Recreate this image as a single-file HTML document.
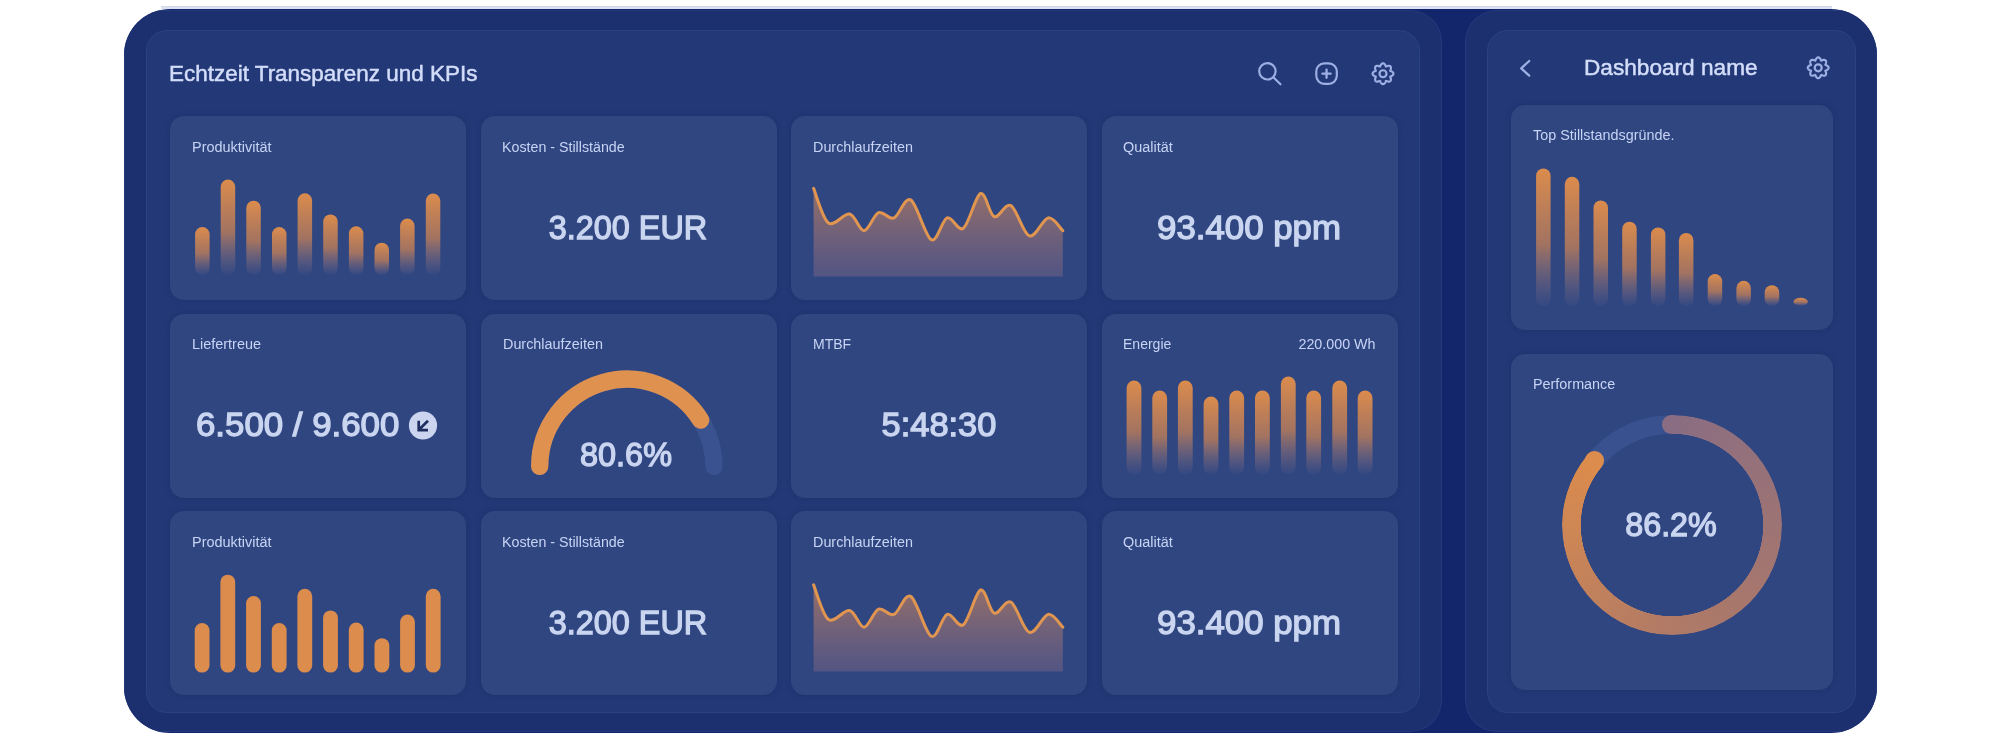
<!DOCTYPE html><html><head><meta charset="utf-8"><style>
*{margin:0;padding:0;box-sizing:border-box}
html,body{width:2000px;height:740px;overflow:hidden;background:#fff;font-family:"Liberation Sans", sans-serif}
.abs{position:absolute;left:0;top:0}
.frame{position:absolute;left:124px;top:9px;width:1753px;height:724px;border-radius:46px;background:#13266b;overflow:hidden}
.mid{position:absolute;border-radius:32px;background:#1c3070;box-shadow:inset 0 0 0 1px rgba(120,150,230,0.10)}
.inner{position:absolute;border-radius:21px;background:#233977;box-shadow:inset 0 0 0 1px rgba(120,150,230,0.10)}
.card{position:absolute;border-radius:14px;background:#2f4681;overflow:hidden;box-shadow:0 0 5px 1px rgba(15,30,80,0.22)}
.lbl{position:absolute;color:#c8d4f4;white-space:nowrap}
.val{position:absolute;color:#cad5f0;white-space:nowrap;-webkit-text-stroke:1.3px #cad5f0}
.title{position:absolute;color:#d3ddf9;white-space:nowrap;-webkit-text-stroke:0.5px #d3ddf9}
</style></head><body>
<div class="abs" style="left:161px;top:6px;width:1671px;height:1px;background:#d3d9e2"></div>
<div class="abs" style="left:161px;top:7px;width:1671px;height:2px;background:#dbe2f5"></div>
<div class="frame"><div class="mid" style="left:0px;top:1px;width:1318px;height:722px"></div><div class="mid" style="left:1341px;top:1px;width:412px;height:722px"></div></div>
<div class="inner" style="left:146px;top:30px;width:1274px;height:683px"></div>
<div class="inner" style="left:1487px;top:30px;width:369px;height:683px"></div>

<div class="title" style="top:63.25px;font-size:22.5px;line-height:22.5px;letter-spacing:0px;left:168.5px;transform-origin:0 0;transform:scaleX(0.9984);">Echtzeit Transparenz und KPIs</div>
<div class="title" style="top:57.45px;font-size:22.5px;line-height:22.5px;letter-spacing:0px;left:1584.2px;transform-origin:0 0;transform:scaleX(1.0056);">Dashboard name</div>
<div class="card" style="left:170px;top:116px;width:296px;height:184px"><div class="lbl" style="top:23.65px;font-size:14px;line-height:14px;letter-spacing:0px;left:21.8px;transform-origin:0 0;transform:scaleX(1.0329);">Produktivität</div><svg class="abs" width="296" height="184" viewBox="0 0 296 184"><defs><linearGradient id="g1" x1="0" y1="0" x2="0" y2="1" gradientUnits="objectBoundingBox"><stop offset="0" stop-color="#dc8c4c" stop-opacity="1"/><stop offset="0.55" stop-color="#c98256" stop-opacity="0.75"/><stop offset="1" stop-color="#9a7a8a" stop-opacity="0.05"/></linearGradient></defs><rect x="25.1" y="111.1" width="14.5" height="47.90" rx="7.25" fill="url(#g1)"/><rect x="50.7" y="63.6" width="14.5" height="95.40" rx="7.25" fill="url(#g1)"/><rect x="76.3" y="84.7" width="14.5" height="74.30" rx="7.25" fill="url(#g1)"/><rect x="102" y="111.1" width="14.5" height="47.90" rx="7.25" fill="url(#g1)"/><rect x="127.6" y="77.3" width="14.5" height="81.70" rx="7.25" fill="url(#g1)"/><rect x="153.2" y="98.4" width="14.5" height="60.60" rx="7.25" fill="url(#g1)"/><rect x="178.9" y="110.3" width="14.5" height="48.70" rx="7.25" fill="url(#g1)"/><rect x="204.5" y="126.7" width="14.5" height="32.30" rx="7.25" fill="url(#g1)"/><rect x="230.1" y="102.6" width="14.5" height="56.40" rx="7.25" fill="url(#g1)"/><rect x="255.8" y="77.6" width="14.5" height="81.40" rx="7.25" fill="url(#g1)"/></svg></div>
<div class="card" style="left:480.5px;top:116px;width:296px;height:184px"><div class="lbl" style="top:23.65px;font-size:14px;line-height:14px;letter-spacing:0px;left:21.2px;transform-origin:0 0;transform:scaleX(1.0168);">Kosten - Stillstände</div><div class="val" style="top:94.77px;font-size:33px;line-height:33px;letter-spacing:0px;left:-153.0px;width:600px;text-align:center;transform:scaleX(0.9812);">3.200 EUR</div></div>
<div class="card" style="left:791px;top:116px;width:296px;height:184px"><div class="lbl" style="top:23.65px;font-size:14px;line-height:14px;letter-spacing:0px;left:22.0px;transform-origin:0 0;transform:scaleX(1.0267);">Durchlaufzeiten</div><svg class="abs" width="296" height="184"><defs><linearGradient id="a1" x1="0" y1="0" x2="0" y2="1"><stop offset="0" stop-color="#d98a55" stop-opacity="0.62"/><stop offset="1" stop-color="#a87888" stop-opacity="0.30"/></linearGradient></defs><path d="M22.6,72.3 C25.1,78.1 31.5,102.7 37.5,107.0 C43.5,111.3 52.7,96.7 58.6,98.0 C64.5,99.3 68.2,114.9 73.0,114.7 C77.8,114.5 82.6,98.8 87.6,96.7 C92.6,94.6 97.6,104.0 103.0,101.9 C108.4,99.8 113.5,80.3 119.7,83.9 C125.9,87.5 134.2,120.7 140.3,123.7 C146.4,126.7 150.9,103.8 156.2,101.9 C161.6,100.0 166.8,116.3 172.4,112.2 C178.0,108.1 184.5,79.4 189.6,77.5 C194.7,75.6 198.2,98.6 203.2,100.6 C208.3,102.6 214.0,86.4 219.9,89.6 C225.8,92.8 232.2,117.9 238.4,119.9 C244.6,122.0 251.6,102.8 257.2,101.9 C262.8,101.0 269.4,112.6 271.8,114.7 L271.8,160.5 L22.6,160.5 Z" fill="url(#a1)"/><path d="M22.6,72.3 C25.1,78.1 31.5,102.7 37.5,107.0 C43.5,111.3 52.7,96.7 58.6,98.0 C64.5,99.3 68.2,114.9 73.0,114.7 C77.8,114.5 82.6,98.8 87.6,96.7 C92.6,94.6 97.6,104.0 103.0,101.9 C108.4,99.8 113.5,80.3 119.7,83.9 C125.9,87.5 134.2,120.7 140.3,123.7 C146.4,126.7 150.9,103.8 156.2,101.9 C161.6,100.0 166.8,116.3 172.4,112.2 C178.0,108.1 184.5,79.4 189.6,77.5 C194.7,75.6 198.2,98.6 203.2,100.6 C208.3,102.6 214.0,86.4 219.9,89.6 C225.8,92.8 232.2,117.9 238.4,119.9 C244.6,122.0 251.6,102.8 257.2,101.9 C262.8,101.0 269.4,112.6 271.8,114.7" fill="none" stroke="#e09550" stroke-width="3" stroke-linecap="round" stroke-linejoin="round"/></svg></div>
<div class="card" style="left:1101.5px;top:116px;width:296px;height:184px"><div class="lbl" style="top:23.65px;font-size:14px;line-height:14px;letter-spacing:0px;left:21.0px;transform-origin:0 0;transform:scaleX(1.0326);">Qualität</div><div class="val" style="top:94.77px;font-size:33px;line-height:33px;letter-spacing:0px;left:-152.8px;width:600px;text-align:center;transform:scaleX(1.0551);">93.400 ppm</div></div>
<div class="card" style="left:170px;top:313.5px;width:296px;height:184px"><div class="lbl" style="top:23.65px;font-size:14px;line-height:14px;letter-spacing:0px;left:21.6px;transform-origin:0 0;transform:scaleX(1.0311);">Liefertreue</div><div class="val" style="top:94.57px;font-size:33px;line-height:33px;letter-spacing:0px;left:25.799999999999994px;transform-origin:0 0;transform:scaleX(1.0553);">6.500 / 9.600</div><svg class="abs" width="296" height="184"><circle cx="253" cy="111.5" r="14.1" fill="#ccd5ef"/><path d="M258,106.7 L249.4,115.3 M248.7,106.7 L248.7,116.1 L258,116.1" stroke="#1f2e60" stroke-width="2.7" fill="none" stroke-linecap="butt" stroke-linejoin="miter"/></svg></div>
<div class="card" style="left:480.5px;top:313.5px;width:296px;height:184px"><div class="lbl" style="top:23.65px;font-size:14px;line-height:14px;letter-spacing:0px;left:22.0px;transform-origin:0 0;transform:scaleX(1.0267);">Durchlaufzeiten</div><svg class="abs" width="296" height="184"><path d="M58.70,152.30 A87.1,87.1 0 1 1 232.90,152.30" stroke="#3b5290" stroke-width="17.4" fill="none" stroke-linecap="round"/><path d="M58.70,152.30 A87.1,87.1 0 0 1 219.66,106.14" stroke="#df9150" stroke-width="17.4" fill="none" stroke-linecap="round"/></svg><div class="val" style="top:124.27px;font-size:33px;line-height:33px;letter-spacing:0px;left:-154.9px;width:600px;text-align:center;transform:scaleX(0.9838);">80.6%</div></div>
<div class="card" style="left:791px;top:313.5px;width:296px;height:184px"><div class="lbl" style="top:23.65px;font-size:14px;line-height:14px;letter-spacing:0px;left:22.0px;transform-origin:0 0;transform:scaleX(1.0015);">MTBF</div><div class="val" style="top:94.57px;font-size:33px;line-height:33px;letter-spacing:0px;left:-151.9px;width:600px;text-align:center;transform:scaleX(1.0421);">5:48:30</div></div>
<div class="card" style="left:1101.5px;top:313.5px;width:296px;height:184px"><div class="lbl" style="top:23.65px;font-size:14px;line-height:14px;letter-spacing:0px;left:21.8px;transform-origin:0 0;transform:scaleX(1.0005);">Energie</div><div class="lbl" style="top:23.65px;font-size:14px;line-height:14px;letter-spacing:0px;right:22.499999999999908px;transform-origin:100% 0;transform:scaleX(1.0204);">220.000 Wh</div><svg class="abs" width="296" height="184" viewBox="0 0 296 184"><defs><linearGradient id="g2" x1="0" y1="0" x2="0" y2="1" gradientUnits="objectBoundingBox"><stop offset="0" stop-color="#dc8c4c" stop-opacity="1"/><stop offset="0.55" stop-color="#c98256" stop-opacity="0.75"/><stop offset="1" stop-color="#9a7a8a" stop-opacity="0.05"/></linearGradient></defs><rect x="24.6" y="66.6" width="14.8" height="93.90" rx="7.4" fill="url(#g2)"/><rect x="50.3" y="76.6" width="14.8" height="83.90" rx="7.4" fill="url(#g2)"/><rect x="75.9" y="66.6" width="14.8" height="93.90" rx="7.4" fill="url(#g2)"/><rect x="101.6" y="82.6" width="14.8" height="77.90" rx="7.4" fill="url(#g2)"/><rect x="127.3" y="76.6" width="14.8" height="83.90" rx="7.4" fill="url(#g2)"/><rect x="153.0" y="76.6" width="14.8" height="83.90" rx="7.4" fill="url(#g2)"/><rect x="178.9" y="62.6" width="14.8" height="97.90" rx="7.4" fill="url(#g2)"/><rect x="204.3" y="76.6" width="14.8" height="83.90" rx="7.4" fill="url(#g2)"/><rect x="230.3" y="66.6" width="14.8" height="93.90" rx="7.4" fill="url(#g2)"/><rect x="255.7" y="76.6" width="14.8" height="83.90" rx="7.4" fill="url(#g2)"/></svg></div>
<div class="card" style="left:170px;top:511px;width:296px;height:184px"><div class="lbl" style="top:23.65px;font-size:14px;line-height:14px;letter-spacing:0px;left:21.8px;transform-origin:0 0;transform:scaleX(1.0329);">Produktivität</div><svg class="abs" width="296" height="184" viewBox="0 0 296 184"><rect x="24.7" y="112.1" width="14.8" height="49.50" rx="7.4" fill="#dc8c4c"/><rect x="50.4" y="63.7" width="14.8" height="97.90" rx="7.4" fill="#dc8c4c"/><rect x="76.1" y="85.1" width="14.8" height="76.50" rx="7.4" fill="#dc8c4c"/><rect x="101.8" y="112.1" width="14.8" height="49.50" rx="7.4" fill="#dc8c4c"/><rect x="127.4" y="77.8" width="14.8" height="83.80" rx="7.4" fill="#dc8c4c"/><rect x="153.1" y="99.4" width="14.8" height="62.20" rx="7.4" fill="#dc8c4c"/><rect x="178.8" y="111.6" width="14.8" height="50.00" rx="7.4" fill="#dc8c4c"/><rect x="204.5" y="127.2" width="14.8" height="34.40" rx="7.4" fill="#dc8c4c"/><rect x="230.1" y="103.5" width="14.8" height="58.10" rx="7.4" fill="#dc8c4c"/><rect x="255.8" y="77.8" width="14.8" height="83.80" rx="7.4" fill="#dc8c4c"/></svg></div>
<div class="card" style="left:480.5px;top:511px;width:296px;height:184px"><div class="lbl" style="top:23.65px;font-size:14px;line-height:14px;letter-spacing:0px;left:21.2px;transform-origin:0 0;transform:scaleX(1.0168);">Kosten - Stillstände</div><div class="val" style="top:94.77px;font-size:33px;line-height:33px;letter-spacing:0px;left:-153.0px;width:600px;text-align:center;transform:scaleX(0.9812);">3.200 EUR</div></div>
<div class="card" style="left:791px;top:511px;width:296px;height:184px"><div class="lbl" style="top:23.65px;font-size:14px;line-height:14px;letter-spacing:0px;left:22.0px;transform-origin:0 0;transform:scaleX(1.0267);">Durchlaufzeiten</div><svg class="abs" width="296" height="184"><defs><linearGradient id="a2" x1="0" y1="0" x2="0" y2="1"><stop offset="0" stop-color="#d98a55" stop-opacity="0.62"/><stop offset="1" stop-color="#a87888" stop-opacity="0.30"/></linearGradient></defs><path d="M22.6,73.8 C25.1,79.6 31.5,104.2 37.5,108.5 C43.5,112.8 52.7,98.2 58.6,99.5 C64.5,100.8 68.2,116.4 73.0,116.2 C77.8,116.0 82.6,100.3 87.6,98.2 C92.6,96.1 97.6,105.5 103.0,103.4 C108.4,101.3 113.5,81.8 119.7,85.4 C125.9,89.0 134.2,122.2 140.3,125.2 C146.4,128.2 150.9,105.3 156.2,103.4 C161.6,101.5 166.8,117.8 172.4,113.7 C178.0,109.6 184.5,80.9 189.6,79.0 C194.7,77.1 198.2,100.1 203.2,102.1 C208.3,104.1 214.0,87.9 219.9,91.1 C225.8,94.3 232.2,119.4 238.4,121.4 C244.6,123.5 251.6,104.3 257.2,103.4 C262.8,102.5 269.4,114.1 271.8,116.2 L271.8,160.5 L22.6,160.5 Z" fill="url(#a2)"/><path d="M22.6,73.8 C25.1,79.6 31.5,104.2 37.5,108.5 C43.5,112.8 52.7,98.2 58.6,99.5 C64.5,100.8 68.2,116.4 73.0,116.2 C77.8,116.0 82.6,100.3 87.6,98.2 C92.6,96.1 97.6,105.5 103.0,103.4 C108.4,101.3 113.5,81.8 119.7,85.4 C125.9,89.0 134.2,122.2 140.3,125.2 C146.4,128.2 150.9,105.3 156.2,103.4 C161.6,101.5 166.8,117.8 172.4,113.7 C178.0,109.6 184.5,80.9 189.6,79.0 C194.7,77.1 198.2,100.1 203.2,102.1 C208.3,104.1 214.0,87.9 219.9,91.1 C225.8,94.3 232.2,119.4 238.4,121.4 C244.6,123.5 251.6,104.3 257.2,103.4 C262.8,102.5 269.4,114.1 271.8,116.2" fill="none" stroke="#e09550" stroke-width="3" stroke-linecap="round" stroke-linejoin="round"/></svg></div>
<div class="card" style="left:1101.5px;top:511px;width:296px;height:184px"><div class="lbl" style="top:23.65px;font-size:14px;line-height:14px;letter-spacing:0px;left:21.0px;transform-origin:0 0;transform:scaleX(1.0326);">Qualität</div><div class="val" style="top:94.77px;font-size:33px;line-height:33px;letter-spacing:0px;left:-152.8px;width:600px;text-align:center;transform:scaleX(1.0551);">93.400 ppm</div></div>
<div class="card" style="left:1510.5px;top:105px;width:322px;height:225px"><div class="lbl" style="top:23.25px;font-size:14px;line-height:14px;letter-spacing:0px;left:22.60000000000009px;transform-origin:0 0;transform:scaleX(1.0264);">Top Stillstandsgründe.</div><svg class="abs" width="322" height="225" viewBox="0 0 322 225"><defs><linearGradient id="g4" x1="0" y1="0" x2="0" y2="1" gradientUnits="objectBoundingBox"><stop offset="0" stop-color="#dc8c4c" stop-opacity="1"/><stop offset="0.55" stop-color="#c98256" stop-opacity="0.75"/><stop offset="1" stop-color="#9a7a8a" stop-opacity="0.05"/></linearGradient></defs><rect x="25.1" y="63.4" width="14.5" height="137.60" rx="7.25" fill="url(#g4)"/><rect x="53.8" y="71.8" width="14.5" height="129.20" rx="7.25" fill="url(#g4)"/><rect x="82.5" y="95.4" width="14.5" height="105.60" rx="7.25" fill="url(#g4)"/><rect x="111.2" y="116.7" width="14.5" height="84.30" rx="7.25" fill="url(#g4)"/><rect x="139.9" y="122.5" width="14.5" height="78.50" rx="7.25" fill="url(#g4)"/><rect x="167.9" y="127.9" width="14.5" height="73.10" rx="7.25" fill="url(#g4)"/><rect x="196.7" y="169.1" width="14.5" height="31.90" rx="7.25" fill="url(#g4)"/><rect x="225.4" y="175.8" width="14.5" height="25.20" rx="7.25" fill="url(#g4)"/><rect x="253.7" y="180.2" width="14.5" height="20.80" rx="7.25" fill="url(#g4)"/><rect x="282.4" y="192.7" width="14.5" height="8.30" rx="7.25" fill="url(#g4)"/></svg></div>
<div class="card" style="left:1510.5px;top:354px;width:322px;height:336px"><div class="lbl" style="top:22.75px;font-size:14px;line-height:14px;letter-spacing:0px;left:22.40000000000009px;transform-origin:0 0;transform:scaleX(1.0266);">Performance</div><div class="abs" style="left:51.09999999999991px;top:61px;width:220px;height:220px;border-radius:50%;background:conic-gradient(from 0deg, #8a6d82 0deg, #b07a66 180deg, #dc8c4c 310deg, #3a5190 310deg, #3a5190 360deg);-webkit-mask:radial-gradient(circle, transparent 90.9px, #000 91.4px)"></div><div class="abs" style="left:151.80px;top:61.00px;width:18.6px;height:18.6px;border-radius:50%;background:#8a6d82"></div><div class="abs" style="left:74.66px;top:96.97px;width:18.6px;height:18.6px;border-radius:50%;background:#dc8c4c"></div><div class="val" style="top:154.27px;font-size:33px;line-height:33px;letter-spacing:0px;left:-139.8px;width:600px;text-align:center;transform:scaleX(0.9784);">86.2%</div></div>
<svg class="abs" width="2000" height="740" style="pointer-events:none">
<g fill="none" stroke="#9eafe5" stroke-width="2.15" stroke-linecap="round" stroke-linejoin="round">
<circle cx="1267.4" cy="71.3" r="8.2"/><path d="M1273.6,77.6 L1280.5,84.3"/>
<rect x="1316.3" y="63.3" width="20.5" height="20.5" rx="8"/><path d="M1326.55,69.6 V77.8 M1322.45,73.7 H1330.65" stroke-width="2.3"/>
<path d="M1383.00,63.30 L1383.27,63.32 L1383.54,63.38 L1383.80,63.49 L1384.06,63.63 L1384.30,63.81 L1384.53,64.03 L1384.75,64.27 L1384.95,64.54 L1385.13,64.83 L1385.30,65.13 L1385.45,65.44 L1385.58,65.75 L1385.71,66.06 L1385.82,66.34 L1385.95,66.59 L1386.20,66.50 L1386.49,66.38 L1386.80,66.25 L1387.11,66.13 L1387.44,66.01 L1387.77,65.92 L1388.10,65.84 L1388.43,65.80 L1388.76,65.78 L1389.07,65.79 L1389.37,65.83 L1389.65,65.91 L1389.91,66.02 L1390.15,66.17 L1390.35,66.35 L1390.53,66.55 L1390.68,66.79 L1390.79,67.05 L1390.87,67.33 L1390.91,67.63 L1390.92,67.94 L1390.90,68.27 L1390.86,68.60 L1390.78,68.93 L1390.69,69.26 L1390.57,69.59 L1390.45,69.90 L1390.32,70.21 L1390.20,70.50 L1390.11,70.75 L1390.36,70.88 L1390.64,70.99 L1390.95,71.12 L1391.26,71.25 L1391.57,71.40 L1391.87,71.57 L1392.16,71.75 L1392.43,71.95 L1392.67,72.17 L1392.89,72.40 L1393.07,72.64 L1393.21,72.90 L1393.32,73.16 L1393.38,73.43 L1393.40,73.70 L1393.38,73.97 L1393.32,74.24 L1393.21,74.50 L1393.07,74.76 L1392.89,75.00 L1392.67,75.23 L1392.43,75.45 L1392.16,75.65 L1391.87,75.83 L1391.57,76.00 L1391.26,76.15 L1390.95,76.28 L1390.64,76.41 L1390.36,76.52 L1390.11,76.65 L1390.20,76.90 L1390.32,77.19 L1390.45,77.50 L1390.57,77.81 L1390.69,78.14 L1390.78,78.47 L1390.86,78.80 L1390.90,79.13 L1390.92,79.46 L1390.91,79.77 L1390.87,80.07 L1390.79,80.35 L1390.68,80.61 L1390.53,80.85 L1390.35,81.05 L1390.15,81.23 L1389.91,81.38 L1389.65,81.49 L1389.37,81.57 L1389.07,81.61 L1388.76,81.62 L1388.43,81.60 L1388.10,81.56 L1387.77,81.48 L1387.44,81.39 L1387.11,81.27 L1386.80,81.15 L1386.49,81.02 L1386.20,80.90 L1385.95,80.81 L1385.82,81.06 L1385.71,81.34 L1385.58,81.65 L1385.45,81.96 L1385.30,82.27 L1385.13,82.57 L1384.95,82.86 L1384.75,83.13 L1384.53,83.37 L1384.30,83.59 L1384.06,83.77 L1383.80,83.91 L1383.54,84.02 L1383.27,84.08 L1383.00,84.10 L1382.73,84.08 L1382.46,84.02 L1382.20,83.91 L1381.94,83.77 L1381.70,83.59 L1381.47,83.37 L1381.25,83.13 L1381.05,82.86 L1380.87,82.57 L1380.70,82.27 L1380.55,81.96 L1380.42,81.65 L1380.29,81.34 L1380.18,81.06 L1380.05,80.81 L1379.80,80.90 L1379.51,81.02 L1379.20,81.15 L1378.89,81.27 L1378.56,81.39 L1378.23,81.48 L1377.90,81.56 L1377.57,81.60 L1377.24,81.62 L1376.93,81.61 L1376.63,81.57 L1376.35,81.49 L1376.09,81.38 L1375.85,81.23 L1375.65,81.05 L1375.47,80.85 L1375.32,80.61 L1375.21,80.35 L1375.13,80.07 L1375.09,79.77 L1375.08,79.46 L1375.10,79.13 L1375.14,78.80 L1375.22,78.47 L1375.31,78.14 L1375.43,77.81 L1375.55,77.50 L1375.68,77.19 L1375.80,76.90 L1375.89,76.65 L1375.64,76.52 L1375.36,76.41 L1375.05,76.28 L1374.74,76.15 L1374.43,76.00 L1374.13,75.83 L1373.84,75.65 L1373.57,75.45 L1373.33,75.23 L1373.11,75.00 L1372.93,74.76 L1372.79,74.50 L1372.68,74.24 L1372.62,73.97 L1372.60,73.70 L1372.62,73.43 L1372.68,73.16 L1372.79,72.90 L1372.93,72.64 L1373.11,72.40 L1373.33,72.17 L1373.57,71.95 L1373.84,71.75 L1374.13,71.57 L1374.43,71.40 L1374.74,71.25 L1375.05,71.12 L1375.36,70.99 L1375.64,70.88 L1375.89,70.75 L1375.80,70.50 L1375.68,70.21 L1375.55,69.90 L1375.43,69.59 L1375.31,69.26 L1375.22,68.93 L1375.14,68.60 L1375.10,68.27 L1375.08,67.94 L1375.09,67.63 L1375.13,67.33 L1375.21,67.05 L1375.32,66.79 L1375.47,66.55 L1375.65,66.35 L1375.85,66.17 L1376.09,66.02 L1376.35,65.91 L1376.63,65.83 L1376.93,65.79 L1377.24,65.78 L1377.57,65.80 L1377.90,65.84 L1378.23,65.92 L1378.56,66.01 L1378.89,66.13 L1379.20,66.25 L1379.51,66.38 L1379.80,66.50 L1380.05,66.59 L1380.18,66.34 L1380.29,66.06 L1380.42,65.75 L1380.55,65.44 L1380.70,65.13 L1380.87,64.83 L1381.05,64.54 L1381.25,64.27 L1381.47,64.03 L1381.70,63.81 L1381.94,63.63 L1382.20,63.49 L1382.46,63.38 L1382.73,63.32 Z"/><circle cx="1383" cy="73.7" r="3.5"/>
<path d="M1818.20,57.40 L1818.47,57.42 L1818.74,57.48 L1819.00,57.59 L1819.26,57.73 L1819.50,57.91 L1819.73,58.13 L1819.95,58.37 L1820.15,58.64 L1820.33,58.93 L1820.50,59.23 L1820.65,59.54 L1820.78,59.85 L1820.91,60.16 L1821.02,60.44 L1821.15,60.69 L1821.40,60.60 L1821.69,60.48 L1822.00,60.35 L1822.31,60.23 L1822.64,60.11 L1822.97,60.02 L1823.30,59.94 L1823.63,59.90 L1823.96,59.88 L1824.27,59.89 L1824.57,59.93 L1824.85,60.01 L1825.11,60.12 L1825.35,60.27 L1825.55,60.45 L1825.73,60.65 L1825.88,60.89 L1825.99,61.15 L1826.07,61.43 L1826.11,61.73 L1826.12,62.04 L1826.10,62.37 L1826.06,62.70 L1825.98,63.03 L1825.89,63.36 L1825.77,63.69 L1825.65,64.00 L1825.52,64.31 L1825.40,64.60 L1825.31,64.85 L1825.56,64.98 L1825.84,65.09 L1826.15,65.22 L1826.46,65.35 L1826.77,65.50 L1827.07,65.67 L1827.36,65.85 L1827.63,66.05 L1827.87,66.27 L1828.09,66.50 L1828.27,66.74 L1828.41,67.00 L1828.52,67.26 L1828.58,67.53 L1828.60,67.80 L1828.58,68.07 L1828.52,68.34 L1828.41,68.60 L1828.27,68.86 L1828.09,69.10 L1827.87,69.33 L1827.63,69.55 L1827.36,69.75 L1827.07,69.93 L1826.77,70.10 L1826.46,70.25 L1826.15,70.38 L1825.84,70.51 L1825.56,70.62 L1825.31,70.75 L1825.40,71.00 L1825.52,71.29 L1825.65,71.60 L1825.77,71.91 L1825.89,72.24 L1825.98,72.57 L1826.06,72.90 L1826.10,73.23 L1826.12,73.56 L1826.11,73.87 L1826.07,74.17 L1825.99,74.45 L1825.88,74.71 L1825.73,74.95 L1825.55,75.15 L1825.35,75.33 L1825.11,75.48 L1824.85,75.59 L1824.57,75.67 L1824.27,75.71 L1823.96,75.72 L1823.63,75.70 L1823.30,75.66 L1822.97,75.58 L1822.64,75.49 L1822.31,75.37 L1822.00,75.25 L1821.69,75.12 L1821.40,75.00 L1821.15,74.91 L1821.02,75.16 L1820.91,75.44 L1820.78,75.75 L1820.65,76.06 L1820.50,76.37 L1820.33,76.67 L1820.15,76.96 L1819.95,77.23 L1819.73,77.47 L1819.50,77.69 L1819.26,77.87 L1819.00,78.01 L1818.74,78.12 L1818.47,78.18 L1818.20,78.20 L1817.93,78.18 L1817.66,78.12 L1817.40,78.01 L1817.14,77.87 L1816.90,77.69 L1816.67,77.47 L1816.45,77.23 L1816.25,76.96 L1816.07,76.67 L1815.90,76.37 L1815.75,76.06 L1815.62,75.75 L1815.49,75.44 L1815.38,75.16 L1815.25,74.91 L1815.00,75.00 L1814.71,75.12 L1814.40,75.25 L1814.09,75.37 L1813.76,75.49 L1813.43,75.58 L1813.10,75.66 L1812.77,75.70 L1812.44,75.72 L1812.13,75.71 L1811.83,75.67 L1811.55,75.59 L1811.29,75.48 L1811.05,75.33 L1810.85,75.15 L1810.67,74.95 L1810.52,74.71 L1810.41,74.45 L1810.33,74.17 L1810.29,73.87 L1810.28,73.56 L1810.30,73.23 L1810.34,72.90 L1810.42,72.57 L1810.51,72.24 L1810.63,71.91 L1810.75,71.60 L1810.88,71.29 L1811.00,71.00 L1811.09,70.75 L1810.84,70.62 L1810.56,70.51 L1810.25,70.38 L1809.94,70.25 L1809.63,70.10 L1809.33,69.93 L1809.04,69.75 L1808.77,69.55 L1808.53,69.33 L1808.31,69.10 L1808.13,68.86 L1807.99,68.60 L1807.88,68.34 L1807.82,68.07 L1807.80,67.80 L1807.82,67.53 L1807.88,67.26 L1807.99,67.00 L1808.13,66.74 L1808.31,66.50 L1808.53,66.27 L1808.77,66.05 L1809.04,65.85 L1809.33,65.67 L1809.63,65.50 L1809.94,65.35 L1810.25,65.22 L1810.56,65.09 L1810.84,64.98 L1811.09,64.85 L1811.00,64.60 L1810.88,64.31 L1810.75,64.00 L1810.63,63.69 L1810.51,63.36 L1810.42,63.03 L1810.34,62.70 L1810.30,62.37 L1810.28,62.04 L1810.29,61.73 L1810.33,61.43 L1810.41,61.15 L1810.52,60.89 L1810.67,60.65 L1810.85,60.45 L1811.05,60.27 L1811.29,60.12 L1811.55,60.01 L1811.83,59.93 L1812.13,59.89 L1812.44,59.88 L1812.77,59.90 L1813.10,59.94 L1813.43,60.02 L1813.76,60.11 L1814.09,60.23 L1814.40,60.35 L1814.71,60.48 L1815.00,60.60 L1815.25,60.69 L1815.38,60.44 L1815.49,60.16 L1815.62,59.85 L1815.75,59.54 L1815.90,59.23 L1816.07,58.93 L1816.25,58.64 L1816.45,58.37 L1816.67,58.13 L1816.90,57.91 L1817.14,57.73 L1817.40,57.59 L1817.66,57.48 L1817.93,57.42 Z"/><circle cx="1818.2" cy="67.8" r="3.5"/>
<path d="M1529.2,61 L1521.2,68.3 L1529.2,75.6" stroke-width="2.3"/>
</g>
</svg>
</body></html>
